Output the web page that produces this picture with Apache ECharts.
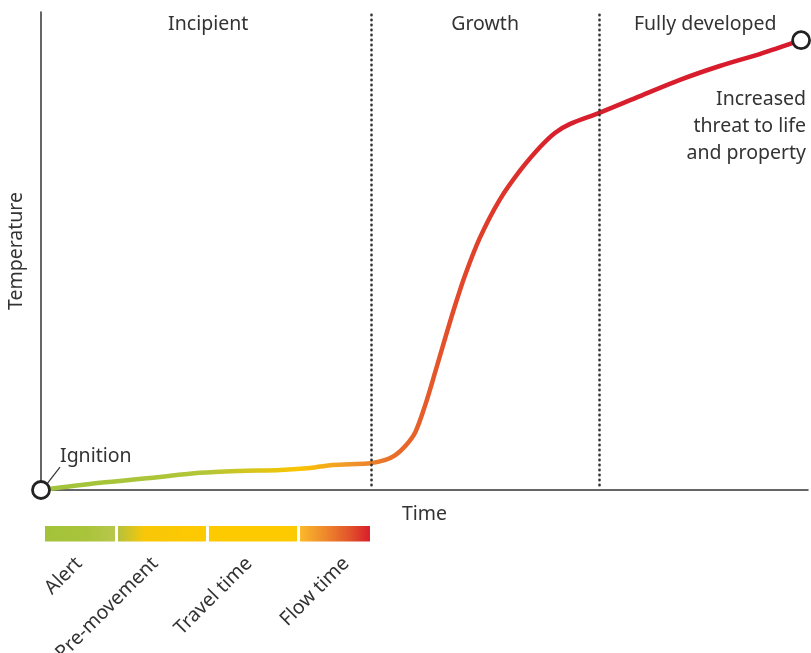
<!DOCTYPE html>
<html><head><meta charset="utf-8">
<script src="https://cdn.jsdelivr.net/npm/echarts@6/dist/echarts.min.js"></script>
<style>html,body{margin:0;padding:0;background:#fff}#c{width:811px;height:653px}</style>
</head><body><div id="c"></div>
<script>
// Fire development curve (time 0..100, temperature 0..100)
var curveTime = [0, 7.7, 14.2, 20.7, 25.9, 31.2, 35.1, 37.7, 40.3, 42.9, 44.9, 46.2, 47.5, 48.8, 50.1, 51.4, 52.7, 54.0, 55.3, 57.2, 59.8, 62.5, 65.1, 67.0, 69.0, 72.8, 78.1, 83.3, 88.5, 93.7, 99.1];
var curveTemp = [0, 1.5, 2.5, 3.6, 4.0, 4.2, 4.6, 5.2, 5.4, 5.6, 6.3, 7.3, 9.2, 12.1, 17.8, 24.7, 31.8, 38.7, 45.0, 52.7, 60.7, 66.9, 71.8, 74.7, 76.6, 78.9, 82.4, 85.8, 88.7, 91.2, 94.1];
var phaseBoundaries = [43.0, 72.8];
var phaseNames = ['Incipient', 'Growth', 'Fully developed'];
var phaseCenters = [21.8, 57.9, 86.6];
var segLabels = ['Alert', 'Pre-movement', 'Travel time', 'Flow time'];
var segStart = [0.52, 10.04, 21.90, 33.77];
var segEnd = [9.65, 21.51, 33.38, 42.89];

var FONT = '"Noto Sans","Open Sans",sans-serif';
var FS = 19.5;
var TXT = '#333333';

var chart = echarts.init(document.getElementById('c'), null, {renderer: 'canvas'});

var lineData = curveTime.map(function (t, i) { return [t, curveTemp[i]]; });
var first = lineData[0], last = lineData[lineData.length - 1];

var lineGrad = new echarts.graphic.LinearGradient(0, 0, 1, 0, [
  {offset: 0, color: '#9fc33b'},
  {offset: 0.22, color: '#b3c637'},
  {offset: 0.34, color: '#fbc400'},
  {offset: 0.40, color: '#f19b2a'},
  {offset: 0.46, color: '#e8702b'},
  {offset: 0.55, color: '#e2482a'},
  {offset: 0.67, color: '#d9202c'},
  {offset: 1, color: '#d71a2c'}
]);

var segFills = [
  new echarts.graphic.LinearGradient(0, 0, 1, 0, [{offset: 0, color: '#a3c23a'}, {offset: 0.6, color: '#a9c43b'}, {offset: 1, color: '#b9c74c'}]),
  new echarts.graphic.LinearGradient(0, 0, 1, 0, [{offset: 0, color: '#b6c13c'}, {offset: 0.3, color: '#f8c708'}, {offset: 1, color: '#fdc900'}]),
  '#fdca00',
  new echarts.graphic.LinearGradient(0, 0, 1, 0, [{offset: 0, color: '#fbb92a'}, {offset: 0.35, color: '#ee8a2c'}, {offset: 0.7, color: '#e2552b'}, {offset: 1, color: '#d81e2b'}])
];
var labelNudge = [-1, -7, -4, 11];

var annotations = phaseNames.map(function (n, i) {
  return {value: [phaseCenters[i], 97.5], label: {formatter: n}};
});
annotations.push({value: [2.48, 7.1], label: {formatter: 'Ignition', align: 'left'}});

var option = {
  animation: false,
  grid: [
    {left: 41, right: 3, top: 12, bottom: 163, containLabel: false, outerBoundsMode: 'none'},
    {left: 41, right: 3, top: 526, height: 15.5, containLabel: false, outerBoundsMode: 'none'}
  ],
  xAxis: [
    {type: 'value', min: 0, max: 100, name: 'Time', nameLocation: 'middle', nameGap: 14,
     nameTextStyle: {fontFamily: FONT, fontSize: FS, color: TXT},
     axisLine: {show: true, lineStyle: {color: '#333', width: 1.5}}, axisTick: {show: false}, axisLabel: {show: false}, splitLine: {show: false}},
    {type: 'value', gridIndex: 1, min: 0, max: 100, show: false}
  ],
  yAxis: [
    {type: 'value', min: 0, max: 100, name: 'Temperature', nameLocation: 'middle', nameGap: 15,
     nameTextStyle: {fontFamily: FONT, fontSize: FS, color: TXT},
     axisLine: {show: true, lineStyle: {color: '#333', width: 1.5}}, axisTick: {show: false}, axisLabel: {show: false}, splitLine: {show: false}},
    {type: 'value', gridIndex: 1, min: 0, max: 1, show: false}
  ],
  graphic: [
    {type: 'text', x: 806, y: 86, style: {text: 'Increased\nthreat to life\nand property', align: 'right', verticalAlign: 'top', font: FS + 'px ' + FONT, fill: TXT, lineHeight: 27}}
  ],
  series: [
    {
      type: 'line', data: lineData, smooth: 0.3, symbol: 'none', z: 3,
      lineStyle: {width: 4.5, color: lineGrad, cap: 'round'},
      markLine: {
        silent: true, symbol: 'none', label: {show: false},
        lineStyle: {type: [0.5, 4.5], cap: 'round', color: '#333', width: 2.6},
        data: phaseBoundaries.map(function (b) { return [{coord: [b, 1]}, {coord: [b, 99.4]}]; })
      }
    },
    {
      type: 'line', data: [[0.78, 1.26], [2.48, 4.8]], symbol: 'none', z: 2,
      lineStyle: {width: 1.2, color: '#333'}
    },
    {
      type: 'scatter', data: annotations, symbolSize: 0, z: 4,
      itemStyle: {opacity: 1},
      label: {show: true, position: 'inside', fontFamily: FONT, fontSize: FS, color: TXT}
    },
    {
      type: 'scatter', data: [first, last], symbol: 'circle', symbolSize: 17, z: 5,
      itemStyle: {color: '#fff', borderColor: '#222', borderWidth: 2.8, opacity: 1}
    },
    {
      type: 'custom', xAxisIndex: 1, yAxisIndex: 1,
      data: segStart.map(function (s, i) { return [s, segEnd[i]]; }),
      renderItem: function (params, api) {
        var p0 = api.coord([api.value(0), 1]);
        var p1 = api.coord([api.value(1), 0]);
        var i = params.dataIndex;
        return {type: 'group', children: [
          {type: 'rect', shape: {x: p0[0], y: p0[1], width: p1[0] - p0[0], height: p1[1] - p0[1]}, style: {fill: segFills[i]}},
          {type: 'text', x: (p0[0] + p1[0]) / 2 + labelNudge[i], y: p1[1] + 19, rotation: Math.PI / 4,
           style: {text: segLabels[i], align: 'right', verticalAlign: 'middle', font: FS + 'px ' + FONT, fill: TXT}}
        ]};
      }
    }
  ]
};
chart.setOption(option);
</script>
</body></html>
